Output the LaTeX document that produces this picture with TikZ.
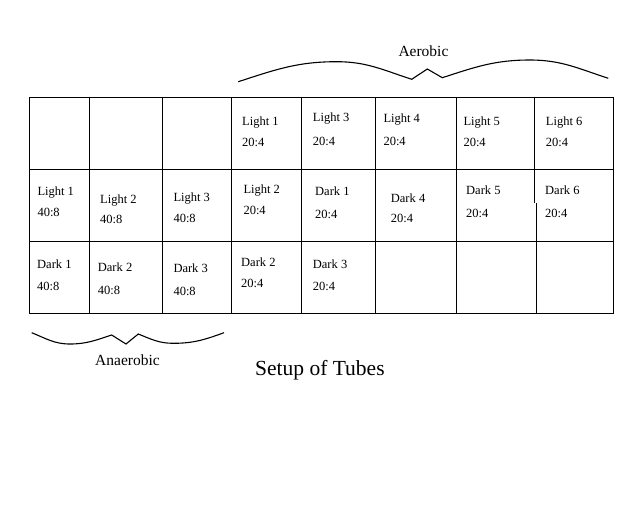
\documentclass[tikz,border=0pt]{standalone}
\usepackage{fontspec}
\setmainfont{Liberation Serif}
\begin{document}
\begin{tikzpicture}[x=1pt,y=1pt,
  grid/.style={line width=1.1pt,black},
  brace/.style={line width=1.1pt,black,line join=miter},
  cell/.style={anchor=base west,inner sep=0pt,font=\fontsize{12.5}{14}\selectfont},
  lbl/.style={anchor=base west,inner sep=0pt,font=\fontsize{15.5}{18}\selectfont},
  ttl/.style={anchor=base west,inner sep=0pt,font=\fontsize{21.5}{25}\selectfont}]
\useasboundingbox (0,0) rectangle (640,-512);
% grid
\draw[grid] (29.5,-97.5) rectangle (613.5,-313.5);
\foreach \x in {89.5,162.5,231.5,301.5,375.5,456.5}
  \draw[grid] (\x,-97.5) -- (\x,-313.5);
\draw[grid] (534.5,-97.5) -- (534.5,-203);
\draw[grid] (536.5,-203) -- (536.5,-313.5);
\draw[grid] (29.5,-169.5) -- (613.5,-169.5);
\draw[grid] (29.5,-241.5) -- (613.5,-241.5);
% row 1
\node[cell] (r1c4a) at (242,-125) {Light 1};
\node[cell] (r1c4b) at (242,-146.7) {20:4};
\node[cell] (r1c5a) at (312.7,-121.7) {Light 3};
\node[cell] (r1c5b) at (312.7,-145) {20:4};
\node[cell] (r1c6a) at (383.3,-122) {Light 4};
\node[cell] (r1c6b) at (383.3,-145) {20:4};
\node[cell] (r1c7a) at (463.3,-125) {Light 5};
\node[cell] (r1c7b) at (463.3,-146.7) {20:4};
\node[cell] (r1c8a) at (545.7,-125) {Light 6};
\node[cell] (r1c8b) at (545.7,-146.7) {20:4};
% row 2
\node[cell] (r2c1a) at (37.3,-195) {Light 1};
\node[cell] (r2c1b) at (37.3,-216.7) {40:8};
\node[cell] (r2c2a) at (100,-203.3) {Light 2};
\node[cell] (r2c2b) at (100,-223.3) {40:8};
\node[cell] (r2c3a) at (173.3,-201.7) {Light 3};
\node[cell] (r2c3b) at (173.3,-222.3) {40:8};
\node[cell] (r2c4a) at (243.3,-193.3) {Light 2};
\node[cell] (r2c4b) at (243.3,-214.3) {20:4};
\node[cell] (r2c5a) at (315,-195) {Dark 1};
\node[cell] (r2c5b) at (315,-218.3) {20:4};
\node[cell] (r2c6a) at (390.7,-202.3) {Dark 4};
\node[cell] (r2c6b) at (390.7,-222.3) {20:4};
\node[cell] (r2c7a) at (466,-194) {Dark 5};
\node[cell] (r2c7b) at (466,-217.7) {20:4};
\node[cell] (r2c8a) at (545,-194) {Dark 6};
\node[cell] (r2c8b) at (545,-217.7) {20:4};
% row 3
\node[cell] (r3c1a) at (37,-268.3) {Dark 1};
\node[cell] (r3c1b) at (37,-290) {40:8};
\node[cell] (r3c2a) at (97.7,-271.7) {Dark 2};
\node[cell] (r3c2b) at (97.7,-294.3) {40:8};
\node[cell] (r3c3a) at (173.3,-272.7) {Dark 3};
\node[cell] (r3c3b) at (173.3,-295) {40:8};
\node[cell] (r3c4a) at (241,-266.7) {Dark 2};
\node[cell] (r3c4b) at (241,-287.7) {20:4};
\node[cell] (r3c5a) at (312.7,-268.3) {Dark 3};
\node[cell] (r3c5b) at (312.7,-290) {20:4};
% braces
\draw[brace] (238.3,-81.7) to[out=18,in=180] (336.7,-61.7) to[out=0,in=162] (411.7,-79.3)
  -- (427.3,-69) -- (442.3,-77.7) to[out=18,in=180] (530,-60) to[out=0,in=162] (608.3,-78.3);
\draw[brace] (31.7,-332.7) to[out=-22,in=180] (70,-344) to[out=0,in=-162] (111.7,-335)
  -- (126,-344) -- (138.3,-334) to[out=-22,in=180] (173.3,-343.3) to[out=0,in=-160] (224,-332.7);
% labels
\node[lbl] (aer) at (398.3,-56.7) {Aerobic};
\node[lbl] (ana) at (95,-365) {Anaerobic};
\node[ttl] (title) at (255,-375) {Setup of Tubes};
\end{tikzpicture}
\end{document}
